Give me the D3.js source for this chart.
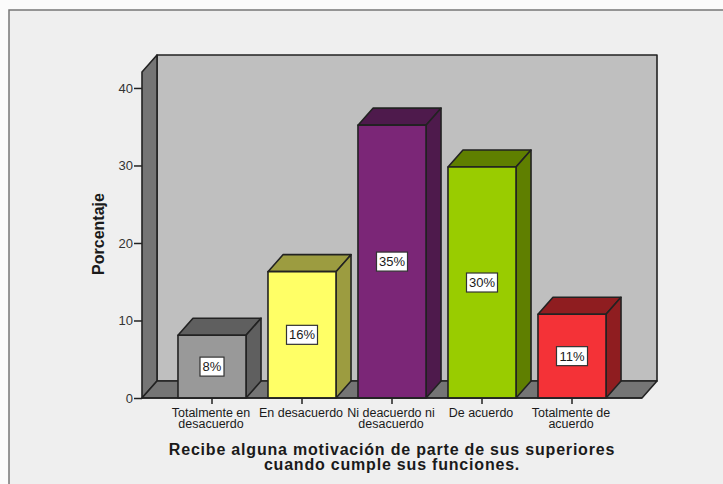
<!DOCTYPE html>
<html><head><meta charset="utf-8">
<script src="https://cdn.jsdelivr.net/npm/d3@7"></script>
<style>html,body{margin:0;padding:0;background:#fff}svg{display:block}text{font-family:"Liberation Sans",Arial,sans-serif;fill:#1a1a1a}</style>
</head><body><svg id="c" width="723" height="484"></svg>
<script>
const categories = [["Totalmente en","desacuerdo"],["En desacuerdo"],["Ni deacuerdo ni","desacuerdo"],["De acuerdo"],["Totalmente de","acuerdo"]];
const values = [8.1, 16.3, 35.2, 29.8, 10.8];
const percentLabels = ["8%","16%","35%","30%","11%"];
const frontColors = ["#999999","#ffff66","#7b2677","#99cc00","#f43237"];
const topColors = ["#5f5f5f","#9c9c40","#4e1a4c","#5f7f00","#8f1d20"];
const yTicks = [0,10,20,30,40];
const xTitle = ["Recibe alguna motivación de parte de sus superiores","cuando cumple sus funciones."];
const yTitle = "Porcentaje";

const svg = d3.select("#c");
const dx = 15, dy = -17;
const y = d3.scaleLinear().domain([0,42.06]).range([398,72]);
const x = d3.scaleBand().domain(d3.range(categories.length)).range([167,617]).paddingInner(0.244).paddingOuter(0.122);
const L = 142, R = 642, B = y(0), T = y.range()[1];
const edge = "#222";
const poly = (pts,fill,sw=1.6)=>svg.append("polygon").attr("points",pts.map(p=>p.join(",")).join(" ")).attr("fill",fill).attr("stroke",edge).attr("stroke-width",sw).attr("stroke-linejoin","round");

svg.append("rect").attr("width",723).attr("height",484).attr("fill","#fbfbfb");
svg.append("rect").attr("x",9).attr("y",10).attr("width",730).attr("height",490).attr("fill","#efefef").attr("stroke","#777").attr("stroke-width",1.5);

poly([[L+dx,T+dy],[R+dx,T+dy],[R+dx,B+dy],[L+dx,B+dy]],"#bfbfbf");
poly([[L,T],[L+dx,T+dy],[L+dx,B+dy],[L,B]],"#757575");
poly([[L,B],[L+dx,B+dy],[R+dx,B+dy],[R,B]],"#757575");

categories.forEach((c,i)=>{
  const x0=x(i), x1=x0+x.bandwidth(), yt=y(values[i]);
  poly([[x0,yt],[x0+dx,yt+dy],[x1+dx,yt+dy],[x1,yt]],topColors[i]);
  poly([[x1,yt],[x1+dx,yt+dy],[x1+dx,B+dy],[x1,B]],topColors[i]);
  poly([[x0,yt],[x1,yt],[x1,B],[x0,B]],frontColors[i]);
  const cx=(x0+x1)/2, cy=(yt+B)/2;
  const w=percentLabels[i].length>2?31:24;
  svg.append("rect").attr("x",cx-w/2).attr("y",cy-9.5).attr("width",w).attr("height",19).attr("fill","#fff").attr("stroke","#333").attr("stroke-width",1.2);
  svg.append("text").attr("x",cx).attr("y",cy+4.5).attr("text-anchor","middle").attr("font-size",13).text(percentLabels[i]);
});

const ya = svg.append("g").attr("transform",`translate(${L},0)`).call(d3.axisLeft(y).tickValues(yTicks).tickSize(8).tickPadding(1).tickFormat(d3.format("d")));
ya.select(".domain").remove();
ya.selectAll("line").attr("stroke","#222").attr("stroke-width",1.5);
ya.selectAll("text").attr("font-size",13).style("font-family",'"Liberation Sans",Arial,sans-serif').style("fill","#333");

const xa = svg.append("g").attr("transform",`translate(0,${B})`).call(d3.axisBottom(x).tickSize(6).tickFormat(""));
xa.select(".domain").attr("d",`M${L},0H${R}`).attr("stroke","#222").attr("stroke-width",1.5);
xa.selectAll("line").attr("stroke","#222").attr("stroke-width",1.5);

categories.forEach((c,i)=>{
  const t=svg.append("text").attr("text-anchor","middle").attr("font-size",12.5);
  c.forEach((s,j)=>t.append("tspan").attr("x",x(i)+x.bandwidth()/2-1).attr("y",417+j*11).text(s));
});
const tt=svg.append("text").attr("text-anchor","middle").attr("font-size",16).attr("font-weight","bold").attr("letter-spacing",".8");
xTitle.forEach((s,j)=>tt.append("tspan").attr("x",392).attr("y",455+j*15).text(s));
svg.append("text").attr("transform","translate(104,234) rotate(-90)").attr("text-anchor","middle").attr("font-size",16).attr("font-weight","bold").text(yTitle);
</script></body></html>
